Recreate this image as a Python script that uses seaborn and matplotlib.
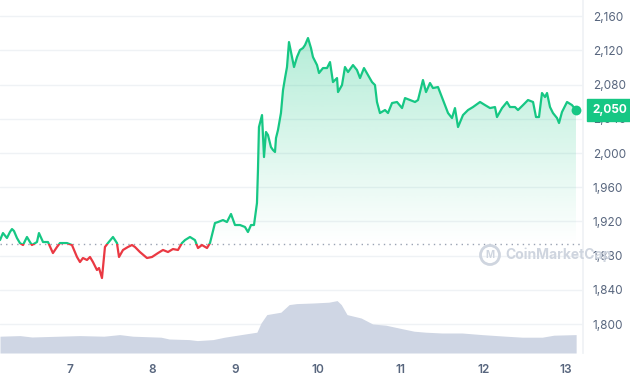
import numpy as np
import matplotlib
matplotlib.use("Agg")
import matplotlib.pyplot as plt
import seaborn as sns
from matplotlib.colors import to_rgb
from matplotlib.patches import Rectangle, Circle

# price (USD) by day of month
days = [6.154, 6.190, 6.238, 6.274, 6.299, 6.323, 6.359, 6.395, 6.432, 6.480, 6.516, 6.540,
        6.601, 6.625, 6.674, 6.734, 6.794, 6.843, 6.879, 6.964, 7.024, 7.085, 7.121, 7.157,
        7.206, 7.242, 7.278, 7.326, 7.351, 7.387, 7.423, 7.459, 7.520, 7.568, 7.593, 7.641,
        7.701, 7.750, 7.786, 7.846, 7.931, 7.992, 8.064, 8.125, 8.185, 8.245, 8.306, 8.354,
        8.391, 8.451, 8.511, 8.548, 8.596, 8.657, 8.693, 8.753, 8.790, 8.850, 8.898, 8.947,
        8.995, 9.056, 9.116, 9.152, 9.189, 9.225, 9.261, 9.273, 9.285, 9.322, 9.346, 9.370,
        9.394, 9.430, 9.455, 9.479, 9.491, 9.515, 9.551, 9.576, 9.600, 9.624, 9.648, 9.684,
        9.709, 9.745, 9.781, 9.817, 9.842, 9.878, 9.914, 9.938, 9.987, 10.011, 10.059, 10.108,
        10.144, 10.180, 10.229, 10.241, 10.289, 10.325, 10.362, 10.422, 10.470, 10.507, 10.555,
        10.603, 10.652, 10.688, 10.712, 10.748, 10.809, 10.845, 10.894, 10.954, 11.015, 11.051,
        11.111, 11.172, 11.208, 11.268, 11.305, 11.353, 11.389, 11.450, 11.510, 11.571, 11.619,
        11.655, 11.692, 11.752, 11.813, 11.873, 11.958, 12.018, 12.079, 12.139, 12.163, 12.224,
        12.284, 12.320, 12.381, 12.417, 12.478, 12.538, 12.599, 12.635, 12.671, 12.707, 12.744,
        12.768, 12.804, 12.840, 12.889, 12.913, 12.949, 13.010, 13.070, 13.118]
price = [1898.2, 1906.4, 1900.6, 1907.6, 1911.1, 1908.8, 1900.6, 1894.7, 1892.4, 1901.8, 1895.9, 1892.4,
         1895.9, 1906.4, 1895.9, 1895.9, 1883.0, 1890.1, 1894.7, 1894.7, 1892.4, 1878.4, 1872.5, 1877.2,
         1874.9, 1878.4, 1872.5, 1863.2, 1865.5, 1853.8, 1890.1, 1894.7, 1901.8, 1894.7, 1878.4, 1886.6,
         1890.1, 1892.4, 1890.1, 1884.2, 1877.2, 1878.4, 1883.0, 1886.6, 1884.2, 1887.7, 1886.6, 1894.7,
         1898.2, 1901.8, 1898.2, 1888.9, 1892.4, 1888.9, 1894.7, 1918.1, 1919.3, 1921.6, 1919.3, 1928.7,
         1915.8, 1915.8, 1913.5, 1907.6, 1915.8, 1915.8, 1941.5, 1980.1, 2030.4, 2044.4, 1995.3, 2024.6,
         2021.1, 2007.0, 2003.5, 2001.2, 2017.5, 2026.9, 2046.8, 2073.7, 2087.7, 2100.6, 2129.8, 2112.3,
         2100.6, 2112.3, 2120.5, 2122.8, 2126.3, 2134.5, 2122.8, 2112.3, 2102.9, 2093.6, 2099.4, 2099.4,
         2106.4, 2083.0, 2087.7, 2071.3, 2079.5, 2100.6, 2094.7, 2102.9, 2097.1, 2087.7, 2099.4,
         2091.2, 2083.0, 2079.5, 2059.7, 2046.8, 2050.3, 2046.8, 2058.5, 2059.7, 2052.6, 2064.3,
         2062.0, 2059.7, 2062.0, 2085.4, 2071.3, 2081.9, 2076.0, 2077.2, 2062.0, 2046.8, 2040.9,
         2052.6, 2030.4, 2044.4, 2050.3, 2053.8, 2059.7, 2056.1, 2052.6, 2053.8, 2042.1, 2052.6,
         2059.7, 2053.8, 2053.8, 2050.3, 2056.1, 2062.0, 2059.7, 2042.1, 2042.1, 2070.2, 2065.5,
         2070.2, 2053.8, 2046.8, 2040.9, 2035.1, 2048.0, 2059.7, 2056.1, 2050.3]

# 24h volume (bn USD)
vol_days = [6.154, 6.395, 6.54, 7.12, 7.41, 7.60, 7.76, 8.10, 8.20, 8.44, 8.54, 8.73, 8.87,
            9.07, 9.26, 9.31, 9.38, 9.55, 9.65, 9.74, 9.94, 10.13, 10.23, 10.28, 10.35, 10.52,
            10.66, 10.82, 11.01, 11.16, 11.30, 11.50, 11.74, 11.98, 12.27, 12.47, 12.71, 12.85, 13.12]
volume = [8.4, 8.7, 8.0, 8.7, 8.4, 9.2, 8.4, 7.9, 7.0, 6.7, 6.2, 6.7, 7.9,
          9.2, 10.4, 15.0, 19.2, 20.4, 24.2, 24.7, 25.0, 25.4, 26.2, 24.2, 19.2, 17.5,
          14.5, 13.9, 12.2, 10.9, 10.4, 10.0, 10.0, 9.2, 8.4, 7.9, 7.9, 8.9, 9.2]

baseline = 1893.5
y_ticks = [1800, 1840, 1880, 1920, 1960, 2000, 2040, 2080, 2120, 2160]
x_ticks = [7, 8, 9, 10, 11, 12, 13]

GREEN = "#16c784"
RED = "#ea3943"
GRID = "#eff2f5"
LABEL = "#58667e"

sns.set_theme(style="white")
plt.rcParams["font.family"] = ["Inter", "DejaVu Sans"]

fig = plt.figure(figsize=(6.3, 3.8), dpi=100)
ax = fig.add_axes([0, 27 / 380, 583 / 630, 353 / 380])

x_lo, x_hi = 6.154, 13.203
y_lo, y_hi = 1766.1, 2179.0

# volume band along the bottom (twin axis, drawn first so tick sides can be reset)
ax_vol = ax.twinx()
ax_vol.fill_between(vol_days, volume, 0, color="#cfd6e4", lw=0)
ax_vol.set_ylim(0, 176.5)
ax_vol.set_yticks([])
for s in ax_vol.spines.values():
    s.set_visible(False)

# gradient fill under the price line, above the open price
poly = ax.fill_between(days, price, baseline, color="none", lw=0)
grad = np.zeros((256, 1, 4))
grad[..., :3] = to_rgb(GREEN)
grad[:, 0, 3] = np.linspace(0.0, 0.32, 256)
im = ax.imshow(grad, extent=[days[0], days[-1], baseline, max(price)],
               origin="lower", aspect="auto", zorder=1, interpolation="bilinear")
im.set_clip_path(poly.get_paths()[0], ax.transData)

# line coloured green above the open price, red below
sns.lineplot(x=days, y=price, color=GREEN, lw=1.6, ax=ax, zorder=3)
up = ax.lines[-1]
up.set_clip_path(Rectangle((x_lo - 1, baseline), 20, 1000, transform=ax.transData))
sns.lineplot(x=days, y=price, color=RED, lw=1.6, ax=ax, zorder=3)
down = ax.lines[-1]
down.set_clip_path(Rectangle((x_lo - 1, baseline - 1000), 20, 1000, transform=ax.transData))

ax.axhline(baseline, color="#9aa3b3", lw=1, ls=(0, (1, 3)), zorder=2)
ax.scatter([days[-1]], [price[-1]], s=50, color=GREEN, zorder=4, lw=0)

ax.set_xlim(x_lo, x_hi)
ax.set_ylim(y_lo, y_hi)
ax.set_yticks(y_ticks)
ax.set_yticklabels([f"{v:,}" for v in y_ticks])
ax.set_xticks(x_ticks)
ax.set_xticklabels([str(d) for d in x_ticks])
ax.yaxis.tick_right()
ax.yaxis.set_label_position("right")
ax.tick_params(axis="y", length=0, pad=7, labelsize=8.5, labelcolor=LABEL,
               labelleft=False, labelright=True)
ax.tick_params(axis="x", length=0, pad=8, labelsize=8.5, labelcolor=LABEL)
for t in ax.get_xticklabels():
    t.set_fontweight("semibold")
ax.grid(axis="y", color=GRID, lw=1)
ax.grid(axis="x", visible=False)
ax.set_axisbelow(True)
for s in ["left", "top", "bottom"]:
    ax.spines[s].set_visible(False)
ax.spines["right"].set_color(GRID)
ax.set_xlabel("")
ax.set_ylabel("")

# current price tag
ax.annotate(f"{price[-1]:,.0f}", xy=(1, price[-1]), xycoords=("axes fraction", "data"),
            xytext=(7, 0), textcoords="offset points", va="center", ha="left",
            fontsize=8.5, fontweight="bold", color="white", zorder=6,
            bbox=dict(boxstyle="square,pad=0.45", fc=GREEN, ec=GREEN),
            annotation_clip=False)

# watermark
wm = "#cfd5df"
fig.add_artist(Circle((4.9, 1.25), 0.095, transform=fig.dpi_scale_trans,
                      fill=False, ec=wm, lw=2))
fig.text(4.9 / 6.3, 1.245 / 3.8, "M", ha="center", va="center", fontsize=7,
         fontweight="bold", color=wm)
fig.text(505 / 630, 1.25 / 3.8, "CoinMarketCap", ha="left", va="center",
         fontsize=10, fontweight="bold", color=wm)

fig.savefig("out.png", dpi=100)
